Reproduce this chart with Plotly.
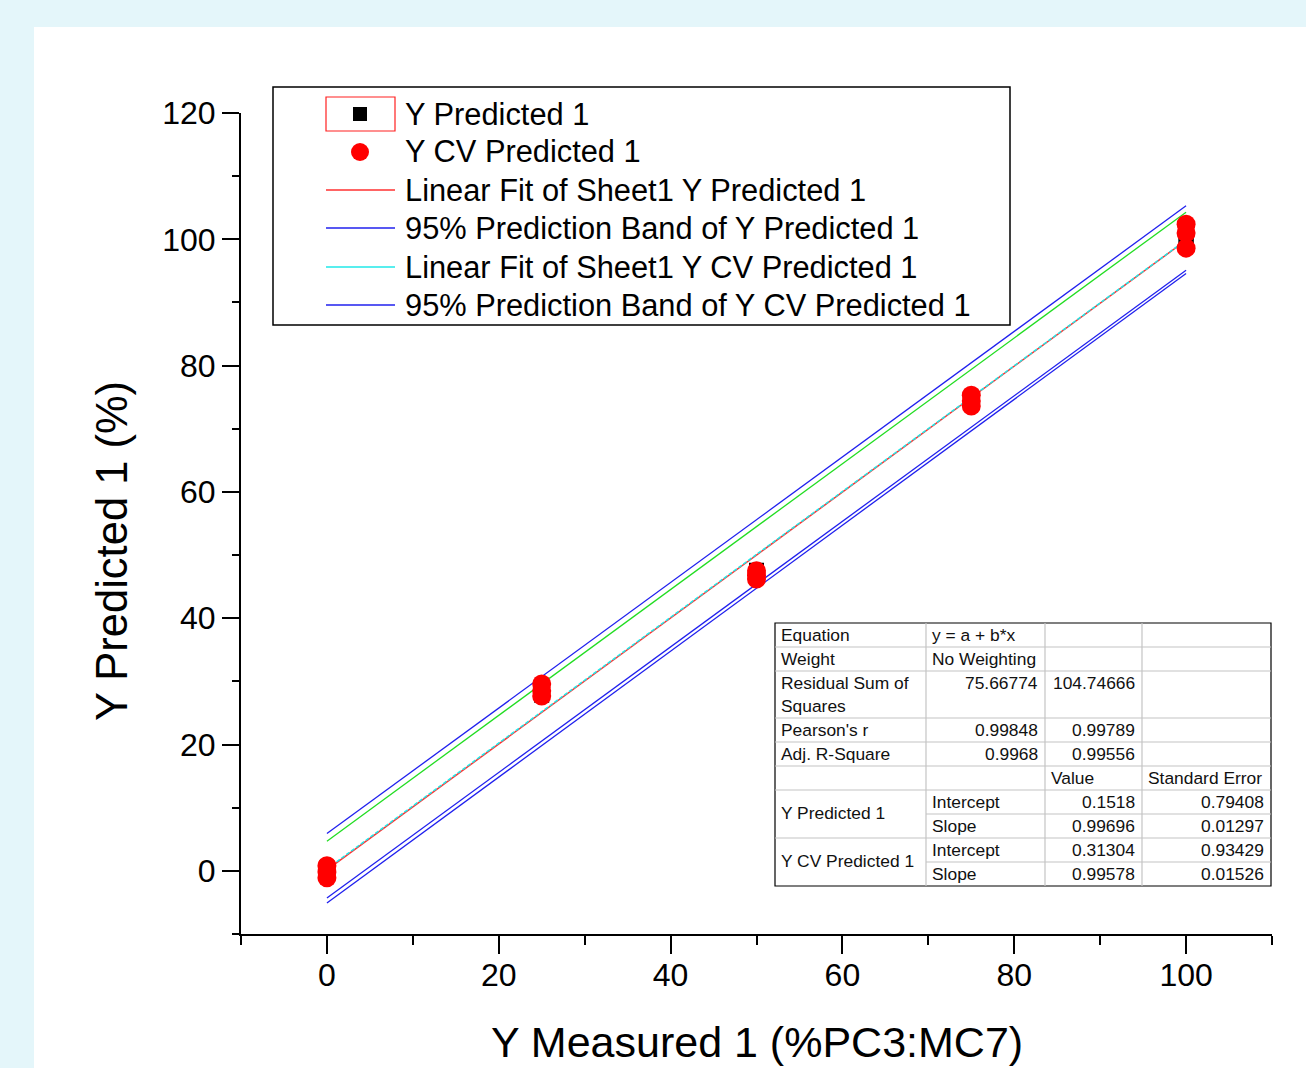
import plotly.graph_objects as go

# ---------------- data ----------------
x_measured = [0, 0, 0, 25, 25, 25, 50, 50, 50, 75, 75, 75, 100, 100, 100]
y_predicted = [0.5, 0.0, -0.6, 29.0, 28.3, 27.8, 47.6, 47.0, 46.5, 75.0, 74.5, 74.1, 101.5, 100.2, 99.4]
y_cv_predicted = [0.8, -0.2, -1.1, 29.6, 28.5, 27.7, 47.5, 46.8, 46.2, 75.3, 74.4, 73.6, 102.4, 101.0, 98.6]

fit_x = [0, 100]
fit_pred_intercept, fit_pred_slope = 0.1518, 0.99696
fit_cv_intercept, fit_cv_slope = 0.31304, 0.99578

band_x = [0, 100]
band_pred_upper = [4.7, 104.3]
band_pred_lower = [-4.3, 95.1]
band_cv_upper = [5.9, 105.3]
band_cv_lower = [-5.1, 94.6]

x_ticks = [0, 20, 40, 60, 80, 100]
y_ticks = [0, 20, 40, 60, 80, 100, 120]

legend_labels = ["Y Predicted 1", "Y CV Predicted 1", "Linear Fit of Sheet1 Y Predicted 1",
                 "95% Prediction Band of Y Predicted 1", "Linear Fit of Sheet1 Y CV Predicted 1",
                 "95% Prediction Band of Y CV Predicted 1"]

table_rows = [
    ["Equation", "y = a + b*x", "", ""],
    ["Weight", "No Weighting", "", ""],
    ["Residual Sum of<br>Squares", "75.66774", "104.74666", ""],
    ["Pearson's r", "0.99848", "0.99789", ""],
    ["Adj. R-Square", "0.9968", "0.99556", ""],
    ["", "", "Value", "Standard Error"],
]
table_params = [
    ["Y Predicted 1", "Intercept", "0.1518", "0.79408"],
    ["", "Slope", "0.99696", "0.01297"],
    ["Y CV Predicted 1", "Intercept", "0.31304", "0.93429"],
    ["", "Slope", "0.99578", "0.01526"],
]

FONT = "Arial, 'Liberation Sans', sans-serif"

# ---------------- layout geometry (pixels) ----------------
W, H = 1306, 1068
L, R, T, B = 241, 34, 113, 134
PW, PH = W - L - R, H - T - B


def px(x):
    return (x - L) / PW


def py(y):
    return (H - B - y) / PH


fig = go.Figure()

# fits
fig.add_trace(go.Scatter(x=fit_x, y=[fit_pred_intercept + fit_pred_slope * v for v in fit_x],
                         mode="lines", line=dict(color="#ff3030", width=1.5), showlegend=False))
fig.add_trace(go.Scatter(x=fit_x, y=[fit_cv_intercept + fit_cv_slope * v for v in fit_x],
                         mode="lines", line=dict(color="#20e8e8", width=1.5, dash="4px,2px"), showlegend=False))
# bands
fig.add_trace(go.Scatter(x=band_x, y=band_pred_upper, mode="lines",
                         line=dict(color="#22dd22", width=1.3), showlegend=False))
fig.add_trace(go.Scatter(x=band_x, y=band_pred_lower, mode="lines",
                         line=dict(color="#2020ee", width=1.3), showlegend=False))
fig.add_trace(go.Scatter(x=band_x, y=band_cv_upper, mode="lines",
                         line=dict(color="#2020ee", width=1.3), showlegend=False))
fig.add_trace(go.Scatter(x=band_x, y=band_cv_lower, mode="lines",
                         line=dict(color="#2020ee", width=1.3), showlegend=False))
# points
fig.add_trace(go.Scatter(x=x_measured, y=y_predicted, mode="markers",
                         marker=dict(symbol="square", size=15, color="black"), showlegend=False))
fig.add_trace(go.Scatter(x=x_measured, y=y_cv_predicted, mode="markers",
                         marker=dict(symbol="circle", size=19, color="#ff0000"), showlegend=False))

shapes = []
annotations = []

# white panel
shapes.append(dict(type="rect", xref="paper", yref="paper", x0=px(34), x1=px(W + 5),
                   y0=py(H + 5), y1=py(27), fillcolor="white", line=dict(width=0), layer="below"))

# ---------------- legend ----------------
shapes.append(dict(type="rect", xref="paper", yref="paper", x0=px(273), x1=px(1010), y0=py(325), y1=py(87),
                   fillcolor="white", line=dict(color="black", width=1.5), layer="above"))
row_y = [114, 152, 190, 228, 267, 305]
shapes.append(dict(type="rect", xref="paper", yref="paper", x0=px(326), x1=px(395), y0=py(131), y1=py(97),
                   line=dict(color="#ff2020", width=1.2), layer="above"))
shapes.append(dict(type="rect", xref="paper", yref="paper", x0=px(353), x1=px(367), y0=py(row_y[0] + 7),
                   y1=py(row_y[0] - 7), fillcolor="black", line=dict(width=0), layer="above"))
shapes.append(dict(type="circle", xref="paper", yref="paper", x0=px(351), x1=px(369), y0=py(row_y[1] + 9),
                   y1=py(row_y[1] - 9), fillcolor="#ff0000", line=dict(width=0), layer="above"))
legend_line_colors = [None, None, "#ff3030", "#2020ee", "#20e8e8", "#2020ee"]
for i, c in enumerate(legend_line_colors):
    if c:
        shapes.append(dict(type="line", xref="paper", yref="paper", x0=px(326), x1=px(395),
                           y0=py(row_y[i]), y1=py(row_y[i]), line=dict(color=c, width=1.5), layer="above"))
for i, lab in enumerate(legend_labels):
    annotations.append(dict(xref="paper", yref="paper", x=px(403), y=py(row_y[i]), text=lab,
                            showarrow=False, xanchor="left", yanchor="middle",
                            font=dict(family=FONT, size=30.8, color="black")))

# ---------------- stats table ----------------
tx = [775, 926, 1045, 1142, 1271]
ty = [623, 647, 671, 718, 742, 766, 790, 814, 838, 862, 886]
shapes.append(dict(type="rect", xref="paper", yref="paper", x0=px(tx[0]), x1=px(tx[-1]), y0=py(ty[-1]),
                   y1=py(ty[0]), fillcolor="white", line=dict(color="black", width=1.2), layer="above"))
grey = "#c4c4c4"
for xv in tx[1:-1]:
    shapes.append(dict(type="line", xref="paper", yref="paper", x0=px(xv), x1=px(xv), y0=py(ty[0]),
                       y1=py(ty[-1]), line=dict(color=grey, width=1.2), layer="above"))
for j, yv in enumerate(ty[1:-1], start=1):
    x_start = tx[1] if yv in (814, 862) else tx[0]
    shapes.append(dict(type="line", xref="paper", yref="paper", x0=px(x_start), x1=px(tx[-1]), y0=py(yv),
                       y1=py(yv), line=dict(color=grey, width=1.2), layer="above"))

TF = dict(family=FONT, size=17.4, color="#111111")


def cell_text(text, col, ytop, align):
    if align == "left":
        x = tx[col] + 5
        xa = "left"
    else:
        x = tx[col + 1] - 6
        xa = "right"
    annotations.append(dict(xref="paper", yref="paper", x=px(x), y=py(ytop), text=text, showarrow=False,
                            xanchor=xa, yanchor="top", align="left", font=TF, borderpad=0))


for r, row in enumerate(table_rows):
    ytop = ty[r] + 1
    for c, val in enumerate(row):
        if not val:
            continue
        if c == 0 or (c == 1 and r < 2) or (r == 5):
            align = "left"
        else:
            align = "right"
        cell_text(val, c, ytop, align)

for r, row in enumerate(table_params):
    ytop = ty[6 + r] + 1
    for c, val in enumerate(row):
        if not val:
            continue
        if c == 0:
            annotations.append(dict(xref="paper", yref="paper", x=px(tx[0] + 5), y=py(ty[6 + r] + 23),
                                    text=val, showarrow=False, xanchor="left", yanchor="middle",
                                    font=TF, borderpad=0))
        elif c == 1:
            cell_text(val, c, ytop, "left")
        else:
            cell_text(val, c, ytop, "right")

# axis titles
annotations.append(dict(xref="paper", yref="paper", x=px(757), y=py(1042), text="Y Measured 1 (%PC3:MC7)",
                        showarrow=False, xanchor="center", yanchor="middle",
                        font=dict(family=FONT, size=43, color="black")))
annotations.append(dict(xref="paper", yref="paper", x=px(112), y=py(551), text="Y Predicted 1 (%)",
                        showarrow=False, xanchor="center", yanchor="middle", textangle=-90,
                        font=dict(family=FONT, size=43.5, color="black")))

fig.update_layout(
    width=W, height=H,
    margin=dict(l=L, r=R, t=T, b=B, pad=0),
    paper_bgcolor="#e4f6fa",
    plot_bgcolor="white",
    showlegend=False,
    shapes=shapes,
    annotations=annotations,
    xaxis=dict(range=[-10, 110], tickvals=x_ticks, ticktext=[str(v) for v in x_ticks],
               showgrid=False, zeroline=False, showline=True, linecolor="black", linewidth=2,
               ticks="outside", ticklen=18, tickwidth=2, tickcolor="black", ticklabelstandoff=-6,
               tickfont=dict(family=FONT, size=32, color="black"),
               minor=dict(tickvals=[-10, 10, 30, 50, 70, 90, 110], ticks="outside", ticklen=9,
                          tickwidth=2, tickcolor="black", showgrid=False)),
    yaxis=dict(range=[-10, 120], tickvals=y_ticks, ticktext=[str(v) for v in y_ticks],
               showgrid=False, zeroline=False, showline=True, linecolor="black", linewidth=2,
               ticks="outside", ticklen=17, tickwidth=2, tickcolor="black",
               tickfont=dict(family=FONT, size=32, color="black"),
               minor=dict(tickvals=[-10, 10, 30, 50, 70, 90, 110], ticks="outside", ticklen=7,
                          tickwidth=2, tickcolor="black", showgrid=False)),
)

fig.write_html("out.html")
